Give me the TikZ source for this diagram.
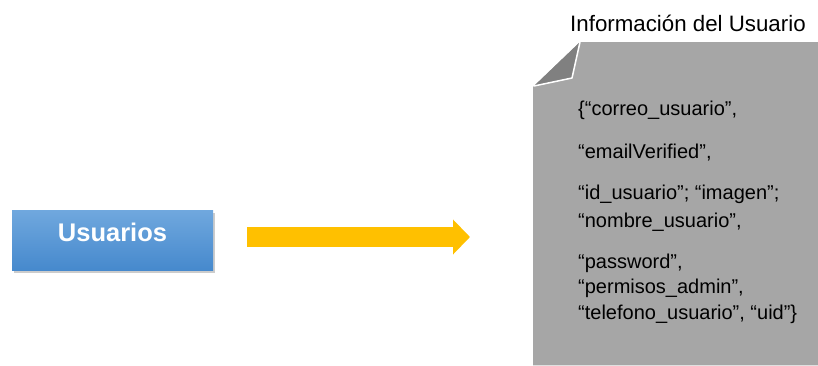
\documentclass[tikz,border=0pt]{standalone}
\usepackage{fontspec}
\setmainfont{Liberation Sans}
\usetikzlibrary{calc, positioning, arrows.meta, shadows}
\definecolor{usrTop}{RGB}{112, 168, 222}
\definecolor{usrBot}{RGB}{70, 137, 205}
\definecolor{arrYellow}{RGB}{255, 192, 0}
\definecolor{docGray}{RGB}{166, 166, 166}
\definecolor{foldGray}{RGB}{128, 128, 128}

\begin{document}
\begin{tikzpicture}[x=1pt, y=-1pt,
    entity/.style={rectangle, minimum width=201pt, minimum height=60pt, inner sep=0pt,
      top color=usrTop, bottom color=usrBot, text=white,
      text height=20pt, text depth=18pt,
      font=\fontsize{25.5}{30}\selectfont\bfseries,
      drop shadow={shadow xshift=2pt, shadow yshift=-3pt, opacity=.4}},
    bigarrow/.style={arrYellow, line width=20pt, -{Triangle[length=17pt, width=34pt]}},
    field/.style={anchor=base west, inner sep=0pt, font=\fontsize{20}{25}\selectfont}]
  \useasboundingbox (0,0) rectangle (818,365);

  % entity on the left
  \node[entity] (usr) at (112.5,240) {Usuarios};

  % the document with its folded corner
  \node[minimum width=285pt, minimum height=323pt, inner sep=0pt, anchor=north west] (doc) at (533,42) {};
  \fill[docGray] ($(doc.north west)+(0,45)$) -- ($(doc.north west)+(47,0)$) -- (doc.north east)
    -- (doc.south east) -- (doc.south west) -- cycle;
  \fill[foldGray] ($(doc.north west)+(47,0)$) -- ($(doc.north west)+(39,36)$) -- ($(doc.north west)+(1,44)$) -- cycle;
  \draw[white, line width=1.5pt, line join=round] ($(doc.north west)+(47,0)$) -- ($(doc.north west)+(39,36)$) -- ($(doc.north west)+(1,44)$);
  \node[anchor=base west, inner sep=0pt, font=\fontsize{22.3}{26}\selectfont] (title) at (570,31) {Información del Usuario};

  % fields
  \node[field] (f1) at (578,115) {\{“correo\_usuario”,};
  \node[field] (f2) at (578,158) {“emailVerified”,};
  \node[field] (f3) at (578,199) {“id\_usuario”; “imagen”;};
  \node[field] (f4) at (578,227) {“nombre\_usuario”,};
  \node[field] (f5) at (578,268) {“password”,};
  \node[field] (f6) at (578,293) {“permisos\_admin”,};
  \node[field] (f7) at (578,319) {“telefono\_usuario”, “uid”\}};

  \draw[bigarrow] ([xshift=34pt, yshift=3pt]usr.east) -- ([xshift=-63pt, yshift=3pt]usr.east -| doc.west);
\end{tikzpicture}
\end{document}
